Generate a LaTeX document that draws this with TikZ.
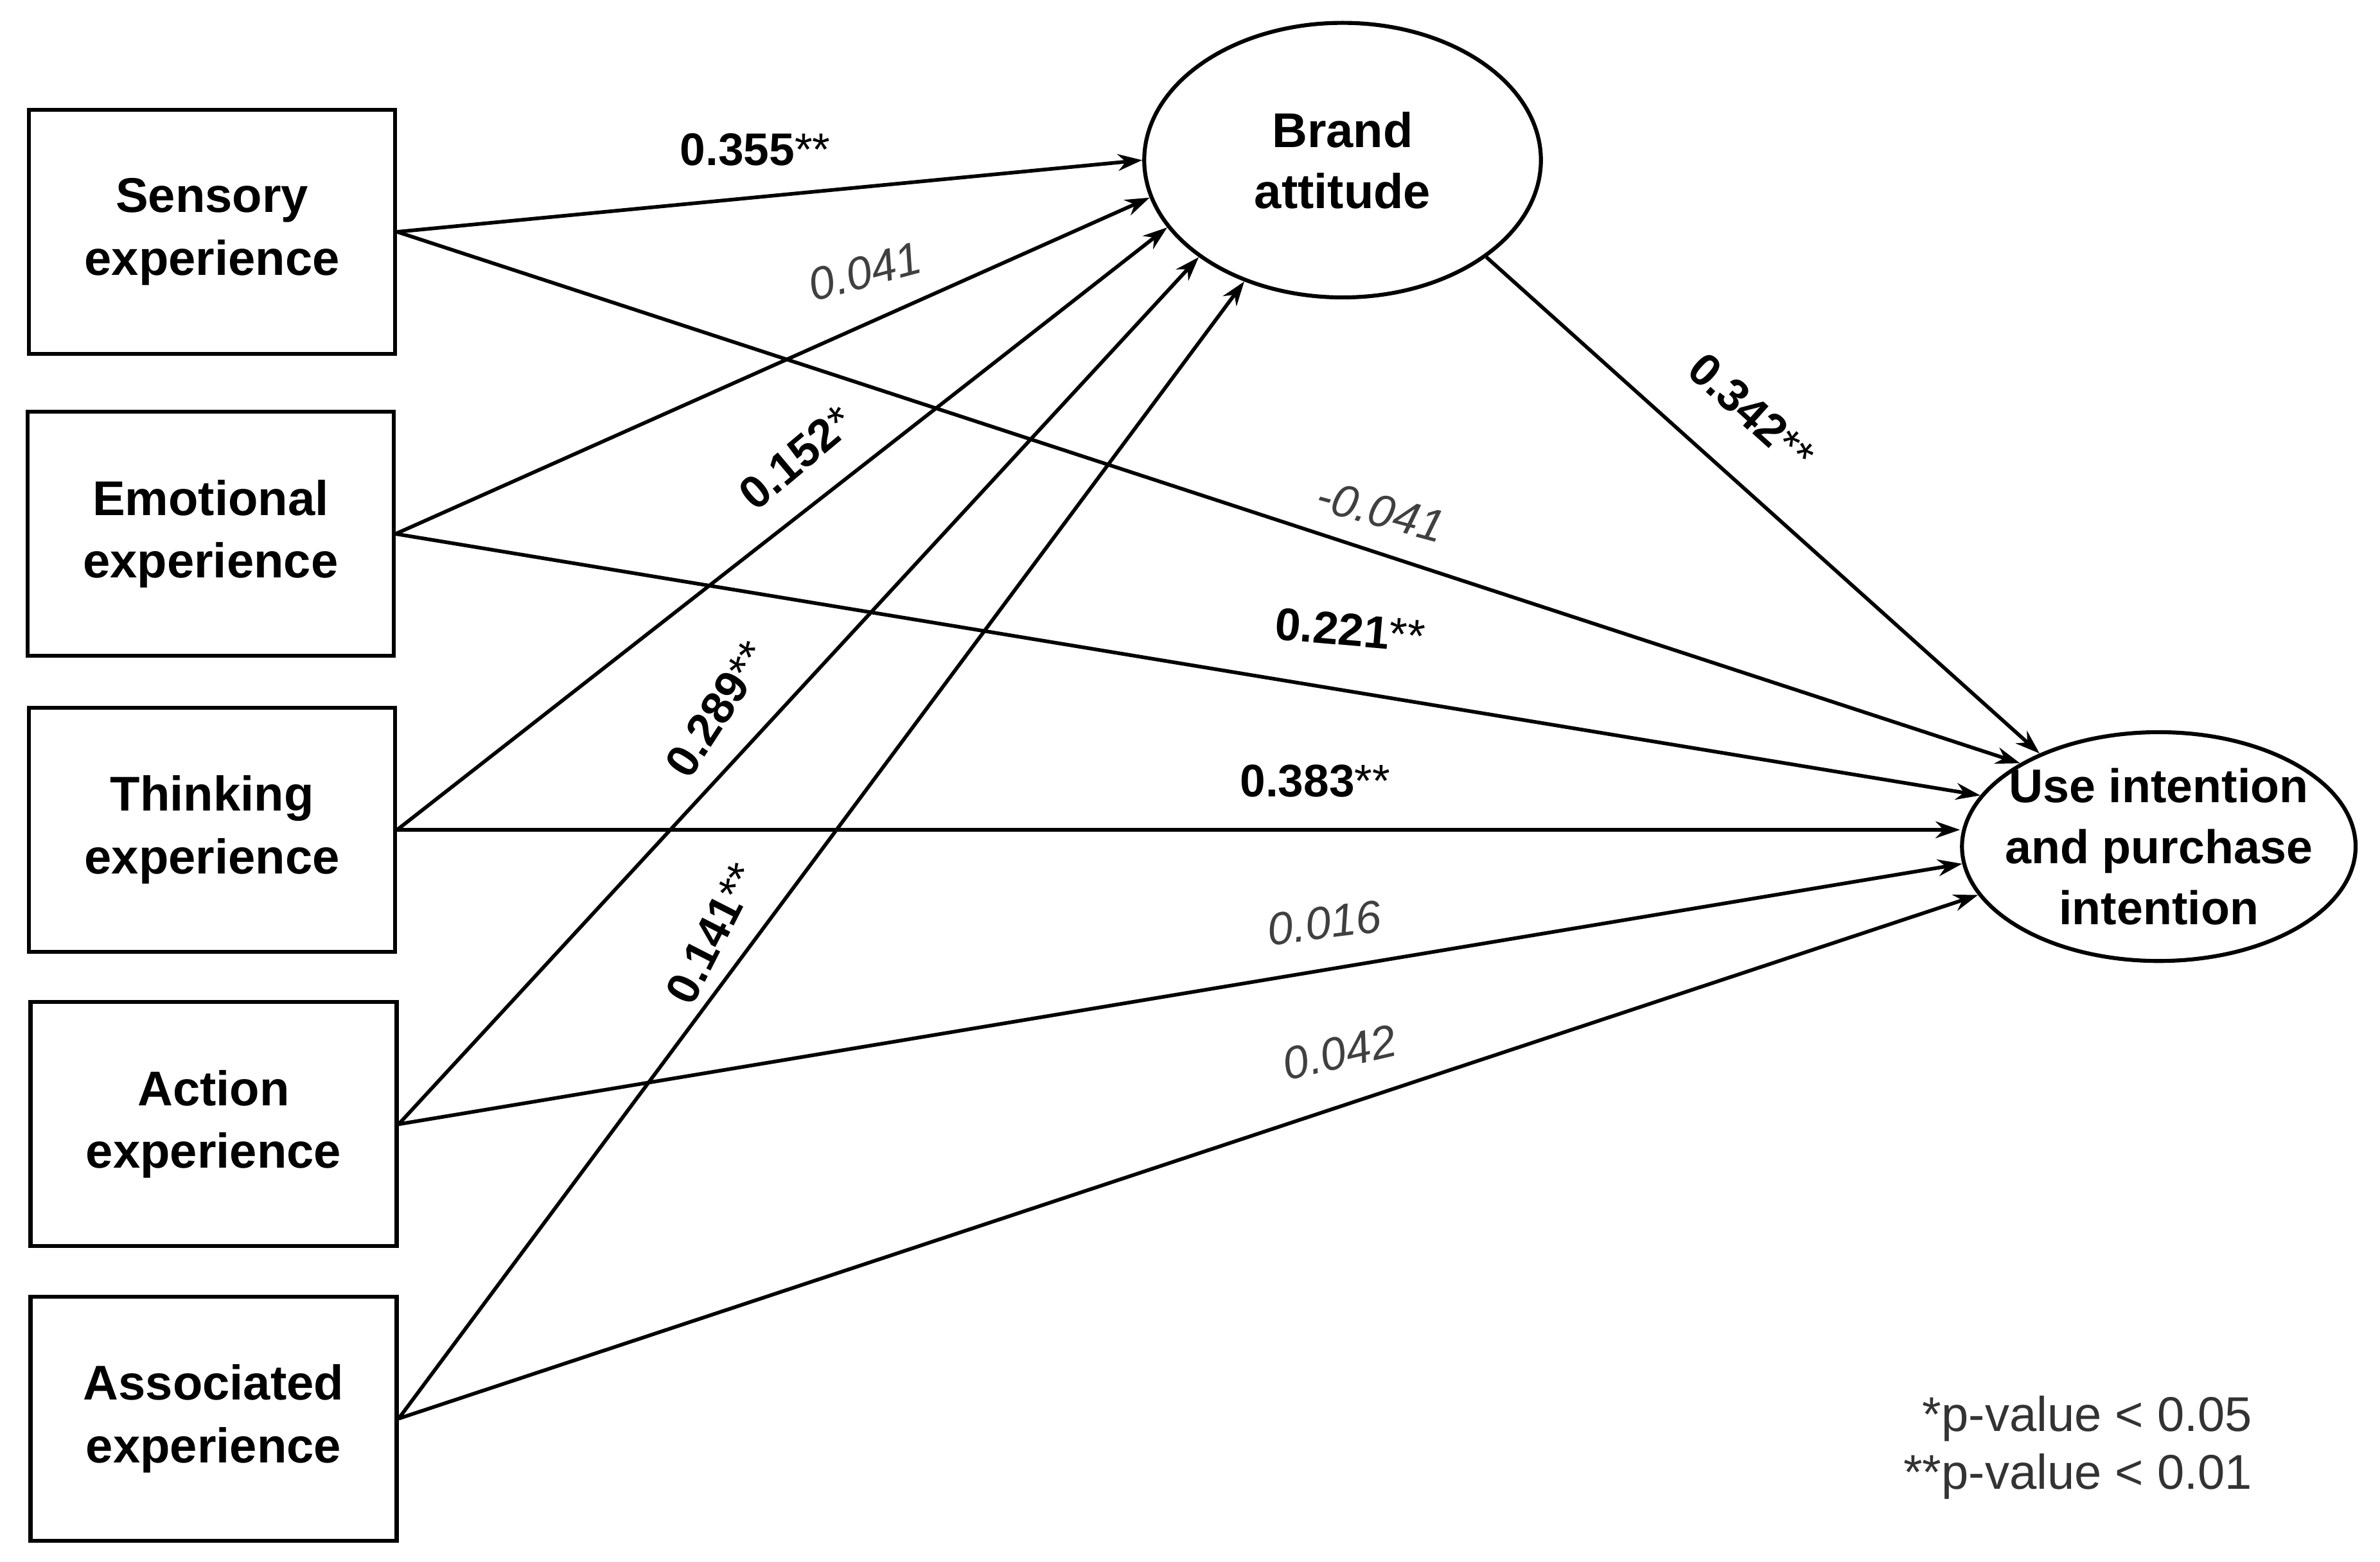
\documentclass[tikz,border=0pt]{standalone}
\usepackage{fontspec}
\setmainfont{Liberation Sans}
\usetikzlibrary{shapes.geometric,arrows.meta}
\begin{document}
\begin{tikzpicture}[x=1pt,y=1pt,
  box/.style={draw,line width=2.6pt,minimum width=240pt,minimum height=160pt,align=center,font=\fontsize{32}{41}\selectfont\bfseries},
  ell/.style={draw,ellipse,line width=2.6pt,align=center,font=\fontsize{32}{40}\selectfont\bfseries,inner sep=0pt},
  arr/.style={line width=2.4pt,-{Stealth[length=16pt,width=11pt]}},
  lb/.style={font=\fontsize{30}{34}\selectfont\bfseries},
  li/.style={font=\fontsize{30}{34}\selectfont\itshape,text=black!75}]
\useasboundingbox (0,0) rectangle (1560,1024);
\node[box] (sens) at (139,872) {Sensory\\experience};
\node[box] (emo) at (138,674) {Emotional\\experience};
\node[box] (thi) at (139,480) {Thinking\\experience};
\node[box] (act) at (140,287) {Action\\experience};
\node[box] (ass) at (140,94) {Associated\\experience};
\node[ell,minimum width=260pt,minimum height=180pt] (brand) at (880,919) {Brand\\attitude};
\node[ell,minimum width=258pt,minimum height=150pt,inner sep=-22pt,font=\fontsize{31}{40}\selectfont\bfseries] (use) at (1415,469) {Use intention\\and purchase\\intention};
\draw[arr] (sens.east) -- (brand.180);
\draw[arr] (emo.east) -- (brand.191);
\draw[arr] (thi.east) -- (brand.201);
\draw[arr] (act.east) -- (brand.214);
\draw[arr] (ass.east) -- (brand.231);
\draw[arr] (sens.east) -- (use.149);
\draw[arr] (emo.east) -- (use.164);
\draw[arr] (thi.east) -- (thi.east -| use.west);
\draw[arr] (act.east) -- (use.185);
\draw[arr] (ass.east) -- (use.195);
\draw[arr] (brand.-34) -- (use.142);
\node[lb] (l1) at (495,926) {0.355\textmd{**}};
\node[li,rotate=15] (l2) at (567,846) {0.041};
\node[lb,rotate=40] (l3) at (522,724) {0.152\textmd{*}};
\node[lb,rotate=57] (l4) at (470,559) {0.289\textmd{**}};
\node[lb,rotate=63] (l5) at (467,412) {0.141\textmd{**}};
\node[li,rotate=-15] (l6) at (905,689) {-0.041};
\node[lb,rotate=-5] (l7) at (885,611) {0.221\textmd{**}};
\node[lb] (l8) at (862,512) {0.383\textmd{**}};
\node[li,rotate=7] (l9) at (868,419) {0.016};
\node[li,rotate=13] (l10) at (878,334) {0.042};
\node[lb,rotate=-42] (l11) at (1148,754) {0.342\textmd{**}};
\node[font=\fontsize{32}{38}\selectfont,align=left,text=black!80] (leg) at (1362,75) {\hphantom{*}*p-value < 0.05\\**p-value < 0.01};
\end{tikzpicture}
\end{document}
